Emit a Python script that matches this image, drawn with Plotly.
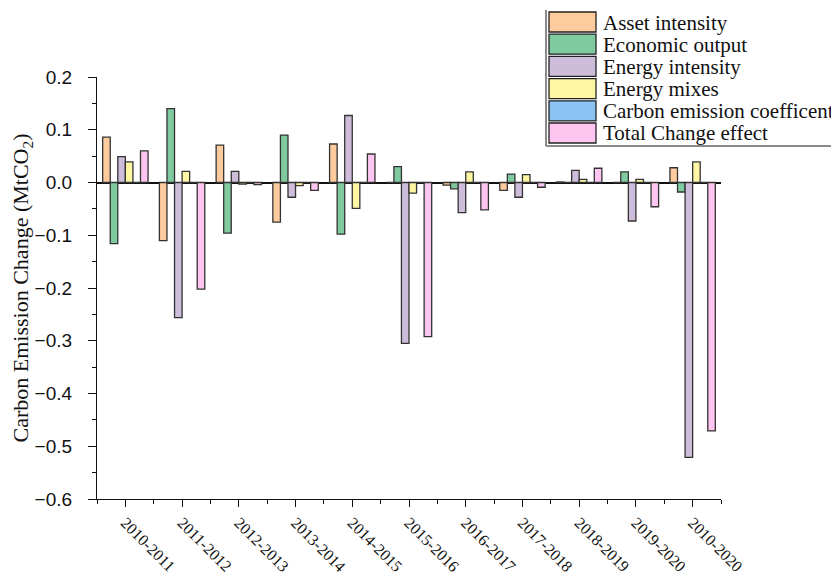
import plotly.graph_objects as go

periods = ["2010-2011", "2011-2012", "2012-2013", "2013-2014", "2014-2015", "2015-2016",
           "2016-2017", "2017-2018", "2018-2019", "2019-2020", "2010-2020"]

asset_intensity = [0.086, -0.110, 0.071, -0.075, 0.073, 0.000, -0.005, -0.015, 0.001, 0.000, 0.028]
economic_output = [-0.116, 0.140, -0.096, 0.090, -0.098, 0.030, -0.012, 0.016, 0.000, 0.020, -0.018]
energy_intensity = [0.049, -0.256, 0.021, -0.028, 0.127, -0.305, -0.057, -0.028, 0.023, -0.073, -0.521]
energy_mixes = [0.039, 0.021, -0.003, -0.006, -0.049, -0.020, 0.020, 0.015, 0.006, 0.006, 0.039]
carbon_coefficient = [0.000, 0.000, 0.000, 0.000, 0.000, 0.000, 0.000, 0.000, 0.000, 0.000, 0.000]
total_change = [0.060, -0.202, -0.004, -0.015, 0.054, -0.292, -0.052, -0.009, 0.027, -0.046, -0.471]

series_names = ["Asset intensity", "Economic output", "Energy intensity", "Energy mixes",
                "Carbon emission coefficent", "Total Change effect"]
series_values = [asset_intensity, economic_output, energy_intensity, energy_mixes,
                 carbon_coefficient, total_change]
series_colors = ["#FECB9E", "#7FCB9F", "#CDBCDA", "#FFF6A3", "#8CC3F3", "#FFC5F1"]

# the page body adds an 8px offset; figure is sized so it ends at the window edge
OFF = 8
W, H = 839 - OFF, 577 - OFF
L, R, T, B = 97 - OFF, 721 - OFF, 77 - OFF, 499 - OFF

x_idx = list(range(len(periods)))

fig = go.Figure()
for name, vals, col in zip(series_names, series_values, series_colors):
    fig.add_trace(go.Bar(x=x_idx, y=vals, name=name, marker=dict(color=col, line=dict(color="#333333", width=1.3)),
                         showlegend=False))

serif = "Liberation Serif, Times New Roman, serif"
sans = "Liberation Sans, Arial, sans-serif"

def px(x):
    return (x - OFF - L) / (R - L)

def py(y):
    return (B - (y - OFF)) / (B - T)

shapes = []
annotations = []
# legend frame
shapes.append(dict(type="rect", xref="paper", yref="paper", x0=px(546), x1=px(850), y0=py(146), y1=py(9),
                   line=dict(width=0), fillcolor="white", layer="above"))
shapes.append(dict(type="line", xref="paper", yref="paper", x0=px(546), x1=px(546), y0=py(146), y1=py(10),
                   line=dict(color="#8a8a8a", width=2), layer="above"))
shapes.append(dict(type="line", xref="paper", yref="paper", x0=px(546), x1=px(850), y0=py(146), y1=py(146),
                   line=dict(color="#8a8a8a", width=2), layer="above"))
for i, (name, col) in enumerate(zip(series_names, series_colors)):
    top = 12 + 22.2 * i
    shapes.append(dict(type="rect", xref="paper", yref="paper", x0=px(549), x1=px(596),
                       y0=py(top + 20), y1=py(top), fillcolor=col,
                       line=dict(color="#222222", width=1.3), layer="above"))
    annotations.append(dict(xref="paper", yref="paper", x=px(601), y=py(top + 10.5), text=name,
                            showarrow=False, xanchor="left", yanchor="middle",
                            font=dict(family=serif, size=21, color="#111111")))

fig.update_layout(
    width=W, height=H,
    margin=dict(l=L, r=W - R, t=T, b=H - B, pad=0, autoexpand=False),
    paper_bgcolor="white", plot_bgcolor="white",
    barmode="group", bargap=0.2, bargroupgap=0,
    shapes=shapes, annotations=annotations,
    showlegend=False,
)

fig.update_xaxes(
    automargin=False,
    range=[-0.5, len(periods) - 0.5], tickmode="array", tickvals=x_idx, ticktext=periods,
    tickangle=45, tickfont=dict(family=serif, size=16, color="#111111"),
    showline=True, linecolor="#111111", linewidth=1.3, mirror=False,
    ticks="outside", ticklen=7, tickwidth=1.3, tickcolor="#111111",
    showgrid=False, zeroline=False,
    minor=dict(tick0=0.5, dtick=1, ticks="outside", ticklen=4, tickwidth=1.3, tickcolor="#111111", showgrid=False),
)

fig.update_yaxes(
    automargin=False,
    range=[-0.6, 0.2], dtick=0.1, tick0=0, tickformat=".1f",
    tickfont=dict(family=sans, size=19, color="#111111"),
    showline=True, linecolor="#111111", linewidth=1.3, mirror=False,
    ticks="outside", ticklen=8, tickwidth=1.3, tickcolor="#111111", ticklabelstandoff=12,
    showgrid=False, zeroline=True, zerolinecolor="#111111", zerolinewidth=1.5,
    minor=dict(dtick=0.05, ticks="outside", ticklen=4, tickwidth=1.3, tickcolor="#111111", showgrid=False),
    title=dict(text="Carbon Emission Change (MtCO<sub>2</sub>)", font=dict(family=serif, size=22, color="#111111"),
               standoff=7),
)

fig.write_html("out.html")
